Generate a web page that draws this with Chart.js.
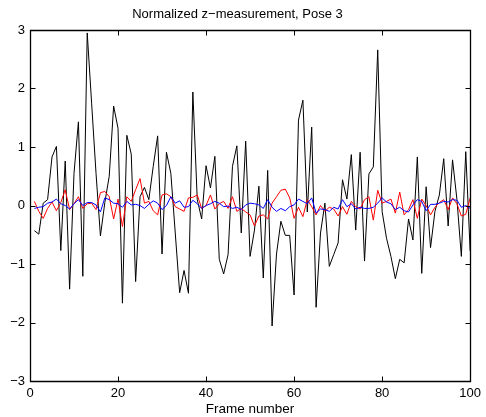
<!DOCTYPE html>
<html>
<head>
<meta charset="utf-8">
<script src="https://cdn.jsdelivr.net/npm/chart.js@4/dist/chart.umd.min.js"></script>
<style>
  html, body { margin: 0; padding: 0; background: #fff; }
  #wrap { width: 486px; height: 417px; }
</style>
</head>
<body>
<div id="wrap"><canvas id="chart" width="486" height="417"></canvas></div>
<script>
// Frame numbers 1..100
const frames = [];
for (let i = 1; i <= 100; i++) frames.push(i);

// Black series (large)
const blackValues = [
  -0.43, -0.49, 0.04, 0.10, 0.83, 1.01, -0.77, 0.76, -1.43, 0.55,
  1.43, -1.21, 2.95, 1.75, 0.55, -0.52, 0.05, 0.50, 1.70, 1.32,
  -1.67, 1.20, 0.88, -1.30, 0.15, 0.31, 0.10, 0.67, 1.19, -0.83,
  0.91, 0.55, -0.47, -1.49, -1.11, -1.50, 1.94, 0.10, -0.23, 0.68,
  0.30, 0.84, -0.92, -1.17, -0.84, 0.67, 1.02, -0.47, 1.10, -0.87,
  -0.42, 0.33, -1.24, 0.60, -2.06, -0.83, -0.27, -0.51, -0.51, -1.53,
  1.46, 1.80, -0.11, 1.34, -1.74, -0.47, 0.04, -1.04, -0.84, -0.64,
  0.44, 0.11, 0.87, -0.42, 0.91, -0.95, 0.54, 0.66, 2.66, -0.10,
  -0.56, -0.87, -1.25, -0.92, -0.98, -0.23, -0.59, 0.83, -1.16, 0.32,
  -0.72, -0.10, 0.18, 0.80, -0.35, 0.78, 0.10, -0.87, 0.92, -0.78
];

// Red series
const redValues = [
  0.07, -0.10, -0.22, -0.05, 0.06, -0.09, 0.05, 0.27, -0.07, 0.03,
  0.15, -0.05, 0.03, 0.04, -0.07, 0.22, 0.24, 0.15, -0.23, 0.11,
  -0.36, 0.15, 0.07, 0.27, 0.46, 0.04, 0.07, -0.09, -0.16, 0.18,
  0.20, 0.15, -0.02, -0.06, -0.10, 0.13, 0.14, 0.18, -0.05, 0.00,
  0.18, -0.06, 0.03, 0.07, -0.05, 0.15, -0.10, -0.05, -0.11, -0.16,
  -0.35, -0.18, -0.16, -0.23, 0.04, 0.15, 0.26, 0.28, 0.13, -0.22,
  -0.03, -0.19, 0.10, -0.02, -0.16, 0.00, -0.10, -0.03, -0.06, -0.18,
  -0.02, -0.15, 0.07, -0.02, -0.06, 0.10, 0.15, -0.25, 0.26, 0.04,
  0.07, 0.11, -0.13, 0.23, -0.16, -0.07, 0.10, -0.22, 0.11, 0.00,
  -0.16, -0.03, 0.05, 0.10, -0.07, 0.13, 0.03, -0.18, -0.15, 0.13
];

// Blue series
const blueValues = [
  -0.05, -0.03, -0.02, 0.04, 0.06, 0.11, 0.03, 0.00, -0.06, 0.03,
  0.10, 0.00, 0.05, 0.05, 0.01, -0.11, 0.13, 0.10, 0.04, 0.03,
  -0.03, 0.07, 0.01, 0.02, 0.00, -0.05, 0.02, 0.08, 0.04, -0.07,
  0.00, 0.15, 0.04, 0.08, -0.03, -0.02, 0.09, 0.03, -0.05, 0.00,
  0.03, 0.07, 0.04, -0.02, -0.01, -0.05, -0.03, -0.07, 0.01, 0.04,
  0.03, 0.01, -0.05, 0.10, -0.03, -0.10, -0.05, -0.09, -0.02, 0.01,
  0.11, 0.07, 0.03, 0.13, -0.13, -0.06, -0.07, -0.10, -0.03, -0.06,
  0.10, -0.02, 0.03, -0.06, -0.03, -0.05, -0.05, -0.03, 0.04, 0.13,
  0.06, 0.03, -0.07, -0.03, -0.09, -0.11, 0.01, 0.10, 0.07, -0.09,
  0.02, 0.02, 0.04, 0.07, 0.06, 0.10, 0.09, -0.03, 0.00, -0.05
];

// Axis ticks
const xTicks = [0, 20, 40, 60, 80, 100];
const yTicks = [-3, -2, -1, 0, 1, 2, 3];

const FONT = "'Liberation Sans', Arial, Helvetica, sans-serif";

function toPoints(values) {
  return values.map((v, i) => ({ x: frames[i], y: v }));
}

// MATLAB style box with inward ticks on all four sides
const boxPlugin = {
  id: 'matlabBox',
  afterDraw(chart) {
    const ctx = chart.ctx;
    const a = chart.chartArea;
    const sx = chart.scales.x, sy = chart.scales.y;
    const len = 5;
    const L = Math.round(a.left) + 0.5, R = Math.round(a.right) + 0.5;
    const T = Math.round(a.top) + 0.5, B = Math.round(a.bottom) + 0.5;
    ctx.save();
    ctx.strokeStyle = '#000';
    ctx.lineWidth = 1;
    ctx.beginPath();
    xTicks.forEach(t => {
      const px = Math.round(sx.getPixelForValue(t)) + 0.5;
      ctx.moveTo(px, B); ctx.lineTo(px, B - len);
      ctx.moveTo(px, T); ctx.lineTo(px, T + len);
    });
    yTicks.forEach(t => {
      const py = Math.round(sy.getPixelForValue(t)) + 0.5;
      ctx.moveTo(L, py); ctx.lineTo(L + len, py);
      ctx.moveTo(R, py); ctx.lineTo(R - len, py);
    });
    ctx.stroke();
    ctx.lineWidth = 1.3;
    ctx.beginPath();
    ctx.rect(L, T, R - L, B - T);
    ctx.stroke();
    ctx.restore();
  }
};

new Chart(document.getElementById('chart'), {
  type: 'line',
  data: {
    datasets: [
      { data: toPoints(blackValues), borderColor: '#000000', order: 3 },
      { data: toPoints(redValues), borderColor: '#ff0000', order: 2 },
      { data: toPoints(blueValues), borderColor: '#0000ff', order: 1 }
    ]
  },
  options: {
    responsive: false,
    animation: false,
    layout: { padding: { left: 0, right: 11, top: 0, bottom: 0 } },
    elements: {
      point: { radius: 0 },
      line: { borderWidth: 1, tension: 0 }
    },
    plugins: {
      legend: { display: false },
      tooltip: { enabled: false },
      title: {
        display: true,
        text: 'Normalized z\u2212measurement, Pose 3',
        color: '#000',
        font: { family: FONT, size: 13, weight: 'normal' },
        padding: { top: 6.5, bottom: 7.9 }
      }
    },
    scales: {
      x: {
        type: 'linear',
        min: 0, max: 100,
        afterBuildTicks: s => { s.ticks = xTicks.map(v => ({ value: v })); },
        afterFit: s => { s.height = 36; },
        grid: { display: false, drawTicks: false },
        border: { display: false },
        ticks: {
          color: '#000',
          padding: 5,
          maxRotation: 0,
          font: { family: FONT, size: 13 }
        },
        title: {
          display: true,
          text: 'Frame number',
          color: '#000',
          padding: { top: 0, bottom: 0 },
          font: { family: FONT, size: 13.5 }
        }
      },
      y: {
        type: 'linear',
        min: -3, max: 3,
        afterBuildTicks: s => { s.ticks = yTicks.map(v => ({ value: v })); },
        afterFit: s => { s.width = 30; },
        grid: { display: false, drawTicks: false },
        border: { display: false },
        ticks: {
          color: '#000',
          padding: 5,
          font: { family: FONT, size: 13 },
          callback: v => String(v).replace('-', '\u2212')
        }
      }
    }
  },
  plugins: [boxPlugin]
});
</script>
</body>
</html>
